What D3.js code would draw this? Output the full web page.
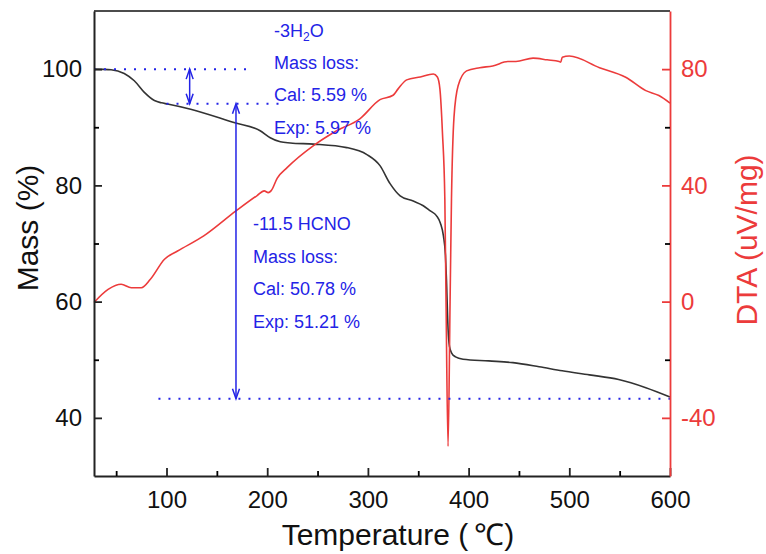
<!DOCTYPE html>
<html>
<head>
<meta charset="utf-8">
<script src="https://cdn.jsdelivr.net/npm/d3@7"></script>
<style>
  body { margin: 0; background: #fff; }
  text { font-family: Arial, "Liberation Sans", sans-serif; }
</style>
</head>
<body>
<div id="chart"></div>
<script>
var w = 766, h = 554;
var margin = {left: 94, top: 11, right: 96, bottom: 78};

// TGA (mass %)
var tgaTemp = [28, 45, 58, 68, 78, 88, 95, 101, 124, 167, 193, 203, 213, 223, 246, 279, 299, 312, 322, 332, 345, 355, 362, 368, 372, 375, 377, 378, 379.6, 381, 383, 387, 394.5, 420, 444, 470, 493, 520, 549, 576, 600];
var tgaMass = [100, 99.9, 99.25, 98.0, 96.0, 94.6, 94.2, 94.0, 93.1, 90.8, 89.4, 88.2, 87.5, 87.3, 87.1, 86.5, 85.3, 83.4, 80.3, 78.2, 77.3, 76.5, 75.6, 74.8, 73.5, 71.3, 68, 63.9, 55.3, 52.3, 51.2, 50.5, 50.1, 49.8, 49.5, 48.8, 48.1, 47.4, 46.6, 45.2, 43.6];

// DTA (uV/mg)
var dtaTemp = [28, 42, 55, 65, 75, 84, 98, 111, 137, 169, 190, 197, 201, 204, 210, 220, 246, 269, 292, 312, 325, 330, 338.5, 352, 365, 369, 371.5, 374, 376.4, 377.6, 379.6, 381.6, 383, 385.5, 389.6, 398, 411, 424, 439, 447, 464, 478, 490, 491.5, 493, 500, 530, 556, 576, 589, 600];
var dtaVal = [-0.3, 4.2, 6.0, 4.8, 4.8, 7.7, 14.6, 17.4, 22.6, 31.2, 36.5, 38.1, 37.5, 38.2, 42.5, 46.2, 53.7, 58.8, 62.9, 69.5, 71.0, 73.2, 76.3, 77.3, 78.3, 77.3, 73.2, 58.3, 35.3, 0, -49.8, 0, 35.3, 63.5, 74.3, 79.4, 80.5, 81.1, 82.6, 82.6, 83.8, 83.2, 82.6, 82.4, 84.1, 84.5, 80.5, 77.2, 72.6, 70.9, 68.3];

var tempTicks = [100, 200, 300, 400, 500, 600];
var tempMinor = [50, 150, 250, 350, 450, 550];
var massTicks = [40, 60, 80, 100];
var massMinor = [50, 70, 90];
var dtaTicks = [-40, 0, 40, 80];
var dtaMinor = [-20, 20, 60];

// annotation levels (mass %) and arrow temperatures
var stepLevels = [100, 94.03, 43.3];
var arrowTemps = [123, 169];
var note1 = ["Mass loss:", "Cal: 5.59 %", "Exp: 5.97 %"];
var note2 = ["-11.5 HCNO", "Mass loss:", "Cal: 50.78 %", "Exp: 51.21 %"];

var black = "#333", red = "#ec3b3b", blue = "#2323e6";
var plain = function(d) { return String(d); }; // keep hyphen minus like the original

var x = d3.scaleLinear().domain([28, 600]).range([margin.left, w - margin.right]);
var yM = d3.scaleLinear().domain([30, 110]).range([h - margin.bottom, margin.top]);
var yD = d3.scaleLinear().domain([-60, 100]).range([h - margin.bottom, margin.top]);

var svg = d3.select("#chart").append("svg")
  .attr("width", w)
  .attr("height", h);

var x0 = margin.left, x1 = w - margin.right, y0 = h - margin.bottom, y1 = margin.top;

//curves
var lineM = d3.line()
  .x(function(d) { return x(d[0]); })
  .y(function(d) { return yM(d[1]); })
  .curve(d3.curveMonotoneX);
var lineD = d3.line()
  .x(function(d) { return x(d[0]); })
  .y(function(d) { return yD(d[1]); })
  .curve(d3.curveMonotoneX);

svg.append("path")
  .datum(d3.zip(tgaTemp, tgaMass))
  .attr("d", lineM)
  .style("fill", "none")
  .style("stroke", black)
  .style("stroke-width", 1.6);

svg.append("path")
  .datum(d3.zip(dtaTemp, dtaVal))
  .attr("d", lineD)
  .style("fill", "none")
  .style("stroke", red)
  .style("stroke-width", 1.6);

//dotted guide lines
var guides = [[28, 186, stepLevels[0]], [100, 215, stepLevels[1]], [92, 600, stepLevels[2]]];
svg.selectAll(".guide")
    .data(guides)
  .enter().append("line")
    .attr("class", "guide")
    .attr("x1", function(d) { return x(d[0]); })
    .attr("x2", function(d) { return x(d[1]); })
    .attr("y1", function(d) { return yM(d[2]); })
    .attr("y2", function(d) { return yM(d[2]); })
    .style("stroke", blue)
    .style("stroke-width", 2)
    .style("stroke-dasharray", "2,8");

//double arrows
function arrow(t, mTop, mBot) {
  var ax = x(t), ya = yM(mTop), yb = yM(mBot);
  svg.append("line")
    .attr("x1", ax).attr("x2", ax).attr("y1", ya).attr("y2", yb)
    .style("stroke", blue).style("stroke-width", 1.5);
  var head = "M" + (ax - 3.5) + "," + (ya + 10) + "L" + ax + "," + ya + "L" + (ax + 3.5) + "," + (ya + 10) +
    "M" + (ax - 3.5) + "," + (yb - 10) + "L" + ax + "," + yb + "L" + (ax + 3.5) + "," + (yb - 10);
  svg.append("path").attr("d", head)
    .style("fill", "none").style("stroke", blue).style("stroke-width", 1.5);
}
arrow(arrowTemps[0], stepLevels[0], stepLevels[1]);
arrow(arrowTemps[1], stepLevels[1], stepLevels[2]);

//annotation text
var t1 = svg.append("text").attr("x", 274).attr("y", 37)
  .style("font-size", "18px").style("fill", blue);
t1.append("tspan").text("-3H");
t1.append("tspan").text("2").style("font-size", "12px").attr("dy", 4);
t1.append("tspan").text("O").attr("dy", -4);
svg.selectAll(".n1")
    .data(note1)
  .enter().append("text")
    .attr("class", "n1")
    .attr("x", 274)
    .attr("y", function(d, i) { return 69 + i * 32.3; })
    .style("font-size", "18px")
    .style("fill", blue)
    .text(function(d) { return d; });
svg.selectAll(".n2")
    .data(note2)
  .enter().append("text")
    .attr("class", "n2")
    .attr("x", 253)
    .attr("y", function(d, i) { return 230 + i * 32.5; })
    .style("font-size", "18px")
    .style("fill", blue)
    .text(function(d) { return d; });

//axes
svg.append("line")
  .attr("x1", x0).attr("x2", x1).attr("y1", y1).attr("y2", y1)
  .style("stroke", "#111").style("stroke-width", 1.5);

var gx = svg.append("g").attr("transform", "translate(0," + y0 + ")")
  .call(d3.axisBottom(x).tickValues(tempTicks).tickFormat(plain).tickSize(-8).tickSizeOuter(0).tickPadding(15));
svg.append("g").attr("transform", "translate(0," + y0 + ")")
  .call(d3.axisBottom(x).tickValues(tempMinor).tickSize(-5).tickFormat(""))
  .select(".domain").remove();

var gl = svg.append("g").attr("transform", "translate(" + x0 + ",0)")
  .call(d3.axisLeft(yM).tickValues(massTicks).tickFormat(plain).tickSize(-8).tickSizeOuter(0).tickPadding(12));
svg.append("g").attr("transform", "translate(" + x0 + ",0)")
  .call(d3.axisLeft(yM).tickValues(massMinor).tickSize(-5).tickFormat(""))
  .select(".domain").remove();

var gr = svg.append("g").attr("transform", "translate(" + x1 + ",0)")
  .call(d3.axisRight(yD).tickValues(dtaTicks).tickFormat(plain).tickSize(-8).tickSizeOuter(0).tickPadding(11));
svg.append("g").attr("transform", "translate(" + x1 + ",0)")
  .call(d3.axisRight(yD).tickValues(dtaMinor).tickSize(-5).tickFormat(""))
  .select(".domain").remove();

svg.selectAll(".tick line").style("stroke-width", 1.8);
[gx, gl].forEach(function(g) {
  g.selectAll("path, line").style("stroke", "#222");
  g.select(".domain").style("stroke-width", 2);
  g.selectAll("text").style("font-size", "24px").style("fill", "#111")
    .style("font-family", "Arial, 'Liberation Sans', sans-serif");
});
gr.selectAll("path, line").style("stroke", red);
gr.select(".domain").style("stroke-width", 1.8);
gr.selectAll("text").style("font-size", "24px").style("fill", red)
  .style("font-family", "Arial, 'Liberation Sans', sans-serif");

//axis titles
svg.append("text")
  .attr("x", 398).attr("y", 545)
  .attr("text-anchor", "middle")
  .style("font-size", "30px").style("fill", "#111")
  .text("Temperature (\u2009℃)");
svg.append("text")
  .attr("transform", "translate(38,228) rotate(-90)")
  .attr("text-anchor", "middle")
  .style("font-size", "30px").style("fill", "#111")
  .text("Mass (%)");
svg.append("text")
  .attr("transform", "translate(757,240) rotate(-90)")
  .attr("text-anchor", "middle")
  .style("font-size", "30px").style("fill", red)
  .text("DTA (uV/mg)");
</script>
</body>
</html>
